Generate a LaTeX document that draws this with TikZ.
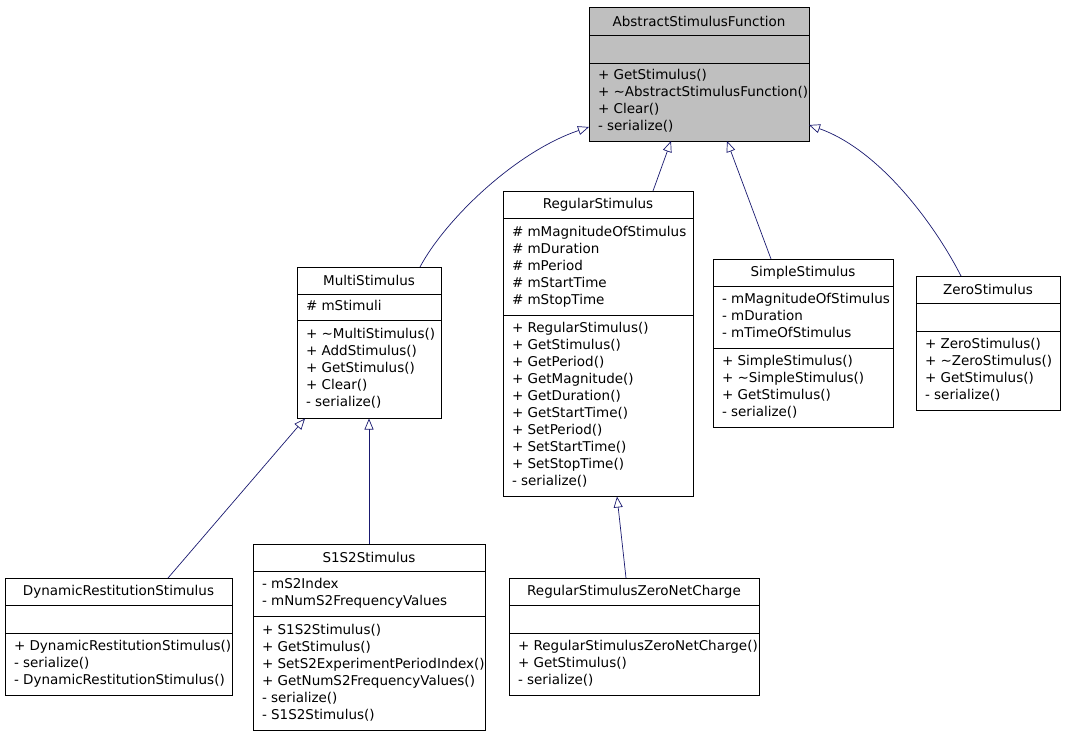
\documentclass[tikz,border=0pt]{standalone}
\usepackage{fontspec}
\setmainfont{DejaVu Sans}
\usetikzlibrary{arrows.meta}
\definecolor{edgeblue}{RGB}{25,25,112}
\definecolor{absgray}{RGB}{191,191,191}
\newcommand{\umlcls}[9]{%
  \node[sec, minimum width=#4pt, minimum height=27.5pt, anchor=north west] (#1) at (#2,#3) {#7};
  \node[sec, minimum width=#4pt, minimum height=#5pt, anchor=north west] (#1a) at (#1.south west)
    {\makebox[\dimexpr#4pt-18pt\relax][l]{\begin{tabular}{@{}l@{}}#8\end{tabular}}};
  \node[sec, minimum width=#4pt, minimum height=#6pt, anchor=north west] (#1m) at (#1a.south west)
    {\makebox[\dimexpr#4pt-18pt\relax][l]{\begin{tabular}{@{}l@{}}#9\end{tabular}}};
}
\begin{document}
\begin{tikzpicture}[x=1pt,y=-1pt,
  sec/.style={draw=black, line width=0.9pt, inner xsep=9pt, inner ysep=0pt, outer sep=0pt,
    font=\fontsize{13.5}{17}\selectfont},
  inh/.style={draw=edgeblue, line width=0.7pt, -{Triangle[open,length=11pt,width=9pt]}}]
\useasboundingbox[fill=white] (0,0) rectangle (1065,736);

\begin{scope}[sec/.append style={fill=absgray}]
\umlcls{abs}{589}{7.5}{220}{28}{78}{AbstractStimulusFunction}{}{+ GetStimulus()\\+ \textasciitilde AbstractStimulusFunction()\\+ Clear()\\- serialize()}
\end{scope}

\umlcls{multi}{297}{267}{144}{26}{98}{MultiStimulus}{\# mStimuli}{+ \textasciitilde MultiStimulus()\\+ AddStimulus()\\+ GetStimulus()\\+ Clear()\\- serialize()}

\umlcls{reg}{503}{191}{190}{97}{181}{RegularStimulus}{\# mMagnitudeOfStimulus\\\# mDuration\\\# mPeriod\\\# mStartTime\\\# mStopTime}{+ RegularStimulus()\\+ GetStimulus()\\+ GetPeriod()\\+ GetMagnitude()\\+ GetDuration()\\+ GetStartTime()\\+ SetPeriod()\\+ SetStartTime()\\+ SetStopTime()\\- serialize()}

\umlcls{simple}{713}{259}{180}{62}{79}{SimpleStimulus}{- mMagnitudeOfStimulus\\- mDuration\\- mTimeOfStimulus}{+ SimpleStimulus()\\+ \textasciitilde SimpleStimulus()\\+ GetStimulus()\\- serialize()}

\umlcls{zero}{916}{276}{144}{28}{79}{ZeroStimulus}{}{+ ZeroStimulus()\\+ \textasciitilde ZeroStimulus()\\+ GetStimulus()\\- serialize()}

\umlcls{dyn}{5}{578}{227}{28}{62}{DynamicRestitutionStimulus}{}{+ DynamicRestitutionStimulus()\\- serialize()\\- DynamicRestitutionStimulus()}

\umlcls{s12}{253}{544}{232}{45}{114}{S1S2Stimulus}{- mS2Index\\- mNumS2FrequencyValues}{+ S1S2Stimulus()\\+ GetStimulus()\\+ SetS2ExperimentPeriodIndex()\\+ GetNumS2FrequencyValues()\\- serialize()\\- S1S2Stimulus()}

\umlcls{rzero}{509}{578}{250}{28}{62}{RegularStimulusZeroNetCharge}{}{+ RegularStimulusZeroNetCharge()\\+ GetStimulus()\\- serialize()}

% inheritance connectors
\draw[inh] ([xshift=123pt]multi.north west) .. controls (445,220) and (515,152) .. ([yshift=-25pt]absm.west);
\draw[inh] ([xshift=150pt]reg.north west) -- ([xshift=82pt]absm.south west);
\draw[inh] ([xshift=58pt]simple.north west) -- ([xshift=138pt]absm.south west);
\draw[inh] ([xshift=45pt]zero.north west) .. controls (935,225) and (880,150) .. ([yshift=-23pt]absm.east);
\draw[inh] ([xshift=163pt]dyn.north west) -- ([xshift=8pt]multim.south west);
\draw[inh] ([xshift=116pt]s12.north west) -- ([xshift=72pt]multim.south west);
\draw[inh] ([xshift=117pt]rzero.north west) -- ([xshift=114pt]regm.south west);
\end{tikzpicture}
\end{document}
